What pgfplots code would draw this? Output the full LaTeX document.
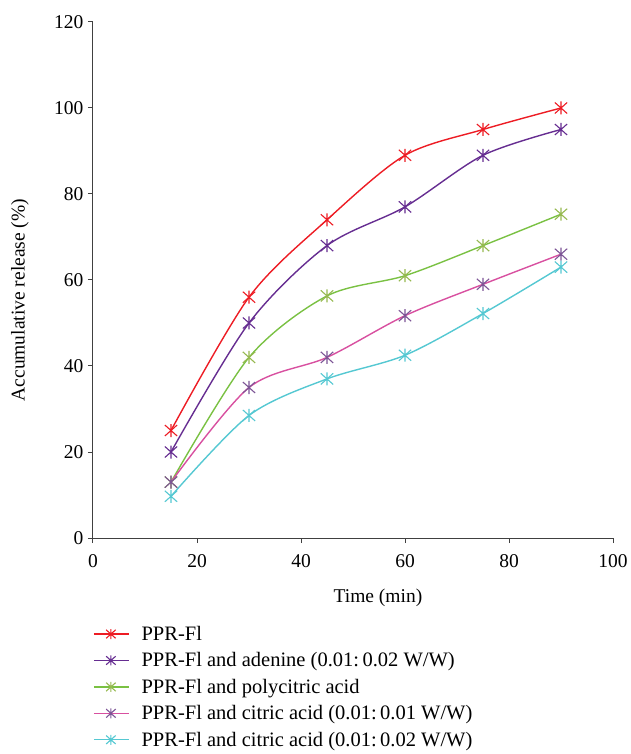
\documentclass[border=0pt]{standalone}
\usepackage{pgfplots}
\pgfplotsset{compat=1.18}
\usepackage{fontspec}
\setmainfont{Liberation Serif}
\definecolor{cred}{RGB}{237,28,36}
\definecolor{cpur}{RGB}{102,45,145}
\definecolor{cgrn}{RGB}{122,193,67}
\definecolor{cgrnm}{RGB}{150,185,80}
\definecolor{cpnk}{RGB}{216,80,160}
\definecolor{cpnkm}{RGB}{125,85,150}
\definecolor{ccyn}{RGB}{85,200,210}
\pgfdeclareplotmark{xbar}{%
  \pgfpathmoveto{\pgfqpoint{0pt}{\pgfplotmarksize}}%
  \pgfpathlineto{\pgfqpoint{0pt}{-\pgfplotmarksize}}%
  \pgfpathmoveto{\pgfqpoint{-0.95\pgfplotmarksize}{0.85\pgfplotmarksize}}%
  \pgfpathlineto{\pgfqpoint{0.95\pgfplotmarksize}{-0.85\pgfplotmarksize}}%
  \pgfpathmoveto{\pgfqpoint{-0.95\pgfplotmarksize}{-0.85\pgfplotmarksize}}%
  \pgfpathlineto{\pgfqpoint{0.95\pgfplotmarksize}{0.85\pgfplotmarksize}}%
  \pgfusepathqstroke}
\begin{document}
\begin{tikzpicture}
\path[use as bounding box] (-93pt,-216pt) rectangle (537pt,538pt);
\begin{axis}[
  at={(0,0)}, anchor=south west,
  scale only axis, width=520pt, height=516pt,
  xmin=0, xmax=100, ymin=0, ymax=120,
  axis lines=left, axis line style={-, line width=1pt, color=black!75},
  tick style={line width=1pt, color=black!75},
  tick align=outside, major tick length=5pt,
  xtick={0,20,...,100}, ytick={0,20,...,120},
  font=\fontsize{19.5}{23}\selectfont,
  /pgf/number format/assume math mode=true,
  xticklabel style={yshift=-8pt},
  yticklabel style={xshift=-1pt},
  xlabel={Time (min)}, ylabel={Accumulative release (\%)},
  every axis x label/.style={at={(rel axis cs:0.548,0)}, yshift=-60pt, anchor=center},
  every axis y label/.style={at={(rel axis cs:0,0.461)}, xshift=-73pt, anchor=center, rotate=90},
  legend style={at={(rel axis cs:0,0)}, anchor=north west, yshift=-87pt, draw=none, fill=none,
    font=\fontsize{20.5}{24}\selectfont, row sep=8.7pt, inner sep=0pt,
    nodes={inner sep=1pt}},
  legend cell align=left,
  legend image code/.code={\draw[#1, mark repeat=2, mark phase=2, mark size=5pt] plot coordinates {(0pt,0pt) (17pt,0pt) (35pt,0pt)};},
  every axis plot/.append style={line width=1.4pt, smooth, mark=xbar, mark size=6.5pt},
]
\addplot[color=cred, mark options={line width=1.1pt}] coordinates {(15,25) (30,56) (45,74) (60,89) (75,95) (90,100)};
\addlegendentry{\hspace{11pt}PPR-Fl}
\addplot[color=cpur, mark options={line width=1.1pt}] coordinates {(15,20) (30,50) (45,68) (60,77) (75,89) (90,95)};
\addlegendentry{\hspace{11pt}PPR-Fl and adenine (0.01:\,0.02 W/W)}
\addplot[color=cgrn, mark options={color=cgrnm, line width=1.1pt}] coordinates {(15,13) (30,42) (45,56.3) (60,61) (75,68) (90,75.3)};
\addlegendentry{\hspace{11pt}PPR-Fl and polycitric acid}
\addplot[color=cpnk, mark options={color=cpnkm, line width=1.1pt}] coordinates {(15,13) (30,35) (45,42) (60,51.7) (75,59) (90,66)};
\addlegendentry{\hspace{11pt}PPR-Fl and citric acid (0.01:\,0.01 W/W)}
\addplot[color=ccyn, mark options={line width=1.1pt}] coordinates {(15,9.7) (30,28.5) (45,37) (60,42.5) (75,52.2) (90,63)};
\addlegendentry{\hspace{11pt}PPR-Fl and citric acid (0.01:\,0.02 W/W)}
\end{axis}
\end{tikzpicture}
\end{document}
